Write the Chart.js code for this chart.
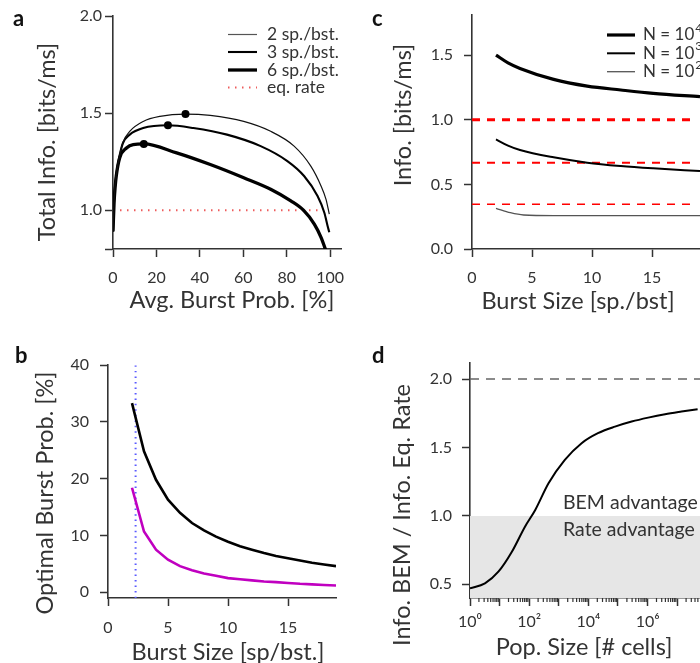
<!DOCTYPE html>
<html>
<head>
<meta charset="utf-8">
<script src="https://cdn.jsdelivr.net/npm/chart.js@4.4.1/dist/chart.umd.min.js"></script>
<style>
  html, body { margin: 0; padding: 0; background: #fff; }
  #fig { position: relative; width: 700px; height: 663px; overflow: hidden; }
  canvas { position: absolute; }
</style>
</head>
<body>
<div id="fig">
  <canvas id="pa" width="350" height="330" style="left:0;top:0"></canvas>
  <canvas id="pc" width="350" height="330" style="left:350px;top:0"></canvas>
  <canvas id="pb" width="350" height="333" style="left:0;top:330px"></canvas>
  <canvas id="pd" width="350" height="333" style="left:350px;top:330px"></canvas>
</div>
<script>
// ---- panel a: total info vs avg burst probability
const probA2 = [0, 0.5, 1, 2, 3, 4.6, 7.7, 13.9, 21.6, 33.4, 44.8, 60.2, 72.6, 83.4, 91.1, 95.8, 98.1, 99.6];
const infoA2 = [0.89, 1.05, 1.13, 1.22, 1.28, 1.35, 1.406, 1.457, 1.483, 1.495, 1.488, 1.457, 1.406, 1.33, 1.227, 1.125, 1.056, 0.98];
const probA3 = [0, 0.5, 1, 2, 3, 4.6, 7.7, 13.9, 25.3, 37, 52.5, 68, 80.3, 88, 94.2, 97.3, 98.8, 99.6];
const infoA3 = [0.89, 1.05, 1.13, 1.22, 1.28, 1.346, 1.389, 1.423, 1.437, 1.423, 1.389, 1.33, 1.253, 1.176, 1.073, 0.988, 0.92, 0.886];
const probA6 = [0, 0.5, 1, 1.5, 3.1, 6.2, 9.3, 14.2, 29.3, 44.8, 60.2, 72.6, 81.9, 87.7, 92.7, 95.8, 98.1];
const infoA6 = [0.89, 1.04, 1.12, 1.176, 1.27, 1.32, 1.338, 1.341, 1.295, 1.235, 1.167, 1.108, 1.048, 1.0, 0.928, 0.86, 0.79];
const peakProb = [33.4, 25.3, 14.2];
const peakInfo = [1.495, 1.437, 1.341];
const eqRateA = 1.0;
const legendA = ['2 sp./bst.', '3 sp./bst.', '6 sp./bst.', 'eq. rate'];

// ---- panel b: optimal burst probability vs burst size
const burstSizeB = [2, 3, 4, 5, 6, 7, 8, 9, 10, 11, 12, 13, 14, 15, 16, 17, 18, 19];
const optBlack = [33.3, 24.8, 19.8, 16.3, 14.0, 12.2, 10.9, 9.8, 8.9, 8.1, 7.5, 6.9, 6.4, 6.0, 5.6, 5.2, 4.9, 4.6];
const optMagenta = [18.4, 10.7, 7.5, 5.75, 4.6, 3.9, 3.3, 2.9, 2.5, 2.3, 2.1, 1.9, 1.8, 1.65, 1.5, 1.4, 1.3, 1.2];
const markerB = 2.3;

// ---- panel c: info vs burst size for three population sizes
const sizeC4 = [2, 3, 4, 6.8, 9.6, 12.4, 15.1, 19];
const infoC4 = [1.5, 1.44, 1.397, 1.312, 1.26, 1.23, 1.204, 1.178];
const sizeC3 = [2, 3, 4, 6.8, 9.6, 12.4, 15.1, 19];
const infoC3 = [0.848, 0.8, 0.766, 0.709, 0.668, 0.642, 0.624, 0.603];
const sizeC2 = [2, 3.2, 4.3, 6.8, 19];
const infoC2 = [0.315, 0.281, 0.263, 0.258, 0.258];
const eqRateC = [1.0, 0.667, 0.346];
const legendC = [['N = 10', '4'], ['N = 10', '3'], ['N = 10', '2']];

// ---- panel d: info ratio vs population size
const popSize = [1, 3.2, 9.1, 26, 72, 160, 450, 1600, 5900, 21000, 79000, 290000, 1050000, 3900000, 14000000, 49000000];
const infoRatio = [0.47, 0.507, 0.592, 0.738, 0.921, 1.043, 1.238, 1.409, 1.531, 1.604, 1.652, 1.689, 1.718, 1.743, 1.762, 1.779];
const ratioLimit = 2.0;
const popMax = 5.9e7;

const INK = '#333';
const FONT = "Lato, 'Open Sans', sans-serif";
Chart.defaults.font.family = FONT;
Chart.defaults.color = INK;

const zip = (xs, ys) => xs.map((x, i) => ({ x, y: ys[i] }));
const hline = (y, x0, x1) => [{ x: x0, y }, { x: x1, y }];

function axis(min, max, ticks, o) {
  return {
    type: o.type || 'linear',
    min, max,
    afterBuildTicks: s => { s.ticks = ticks.map(v => ({ value: v })); },
    afterFit: s => {
      if (o.width) s.width = o.width;
      if (o.height) s.height = o.height;
      s.paddingLeft = s.paddingRight = s.paddingTop = s.paddingBottom = 0;
    },
    border: { color: INK, width: 1.6 },
    grid: { drawOnChartArea: false, color: INK, tickLength: 8, tickWidth: 1.5 },
    ticks: { padding: o.pad, font: { size: 16 }, color: INK, autoSkip: false, maxRotation: 0,
             callback: o.fmt || (v => v) }
  };
}

const decor = {
  id: 'decor',
  afterDraw(chart, args, o) {
    const ctx = chart.ctx;
    ctx.save();
    ctx.textBaseline = 'alphabetic';
    ctx.font = 'bold 22px ' + FONT;
    ctx.fillStyle = '#111';
    ctx.textAlign = 'left';
    ctx.fillText(o.letter[0], o.letter[1], o.letter[2]);
    ctx.fillStyle = INK;
    ctx.font = '23.5px ' + FONT;
    ctx.textAlign = 'center';
    ctx.fillText(o.xTitle[0], o.xTitle[1], o.xTitle[2]);
    ctx.save();
    ctx.translate(o.yTitle[1], o.yTitle[2]);
    ctx.rotate(-Math.PI / 2);
    ctx.fillText(o.yTitle[0], 0, 0);
    ctx.restore();

    (o.legend || []).forEach(it => {
      ctx.save();
      ctx.strokeStyle = it.color;
      ctx.lineWidth = it.width;
      ctx.setLineDash(it.dash || []);
      ctx.beginPath();
      ctx.moveTo(o.legendX[0], it.y);
      ctx.lineTo(o.legendX[1], it.y);
      ctx.stroke();
      ctx.restore();
      ctx.font = o.legendSize + 'px ' + FONT;
      ctx.textAlign = 'left';
      ctx.textBaseline = 'middle';
      ctx.fillText(it.text, o.legendX[2], it.y);
      if (it.sup) {
        const w = ctx.measureText(it.text).width;
        ctx.font = '12px ' + FONT;
        ctx.fillText(it.sup, o.legendX[2] + w + 1, it.y - 7);
      }
    });

    (o.notes || []).forEach(n => {
      ctx.font = n.size + 'px ' + FONT;
      ctx.textAlign = 'left';
      ctx.textBaseline = 'middle';
      ctx.fillText(n.text, n.x, n.y);
    });

    if (o.minorTicks) {
      const xs = chart.scales.x;
      const y0 = chart.chartArea.bottom;
      ctx.strokeStyle = INK;
      ctx.lineWidth = 1.2;
      for (let k = 0; k < 8; k++) {
        for (let m = 2; m < 10; m++) {
          const v = m * Math.pow(10, k);
          if (v > xs.max) continue;
          const px = xs.getPixelForValue(v);
          ctx.beginPath();
          ctx.moveTo(px, y0);
          ctx.lineTo(px, y0 + 4);
          ctx.stroke();
        }
      }
    }
    ctx.restore();
  }
};

function base(padding) {
  return {
    responsive: false,
    animation: false,
    devicePixelRatio: 1,
    events: [],
    layout: { padding },
    elements: { point: { radius: 0 } },
    plugins: { legend: { display: false }, tooltip: { enabled: false } }
  };
}

function curve(data, color, width, extra) {
  return Object.assign({ data, showLine: true, borderColor: color, borderWidth: width,
    pointRadius: 0, fill: false, cubicInterpolationMode: 'monotone' }, extra || {});
}

// ---- panel a
new Chart(document.getElementById('pa'), {
  type: 'scatter',
  data: {
    datasets: [
      { data: zip(peakProb, peakInfo), pointRadius: 4, backgroundColor: '#000', borderWidth: 0 },
      curve(zip(probA2, infoA2), '#111', 1.2),
      curve(zip(probA3, infoA3), '#000', 2.1),
      curve(zip(probA6, infoA6), '#000', 3.3),
      curve(hline(eqRateA, 0, 97), '#ee5c5c', 2, { borderDash: [1.5, 5.5] })
    ]
  },
  options: Object.assign(base({ left: 0, top: 16, right: 9, bottom: 0 }), {
    scales: {
      x: axis(0, 105, [0, 20, 40, 60, 80, 100], { height: 81, pad: 11 }),
      y: axis(0.8, 2.0, [0.8, 1.0, 1.5, 2.0], { width: 113, pad: 3, fmt: v => v === 0.8 ? '' : v.toFixed(1) })
    },
    plugins: {
      legend: { display: false }, tooltip: { enabled: false },
      decor: {
        letter: ['a', 13, 26],
        xTitle: ['Avg. Burst Prob. [%]', 232, 308],
        yTitle: ['Total Info. [bits/ms]', 55, 142],
        legendX: [228, 257, 267],
        legendSize: 17.5,
        legend: [
          { text: legendA[0], y: 34.5, color: '#555', width: 1.2 },
          { text: legendA[1], y: 52, color: '#000', width: 2.1 },
          { text: legendA[2], y: 70, color: '#000', width: 3.3 },
          { text: legendA[3], y: 87.5, color: '#ee5c5c', width: 2, dash: [1.5, 5.5] }
        ]
      }
    }
  }),
  plugins: [decor]
});

// ---- panel c
new Chart(document.getElementById('pc'), {
  type: 'scatter',
  data: {
    datasets: [
      curve(zip(sizeC4, infoC4), '#000', 3.2),
      curve(zip(sizeC3, infoC3), '#000', 2),
      curve(zip(sizeC2, infoC2), '#555', 1.3),
      curve(hline(eqRateC[0], 0, 18.5), '#f00', 3, { borderDash: [8, 7] }),
      curve(hline(eqRateC[1], 0, 18.5), '#f00', 2, { borderDash: [8, 7] }),
      curve(hline(eqRateC[2], 0, 18.5), '#f00', 1.3, { borderDash: [8, 7] })
    ]
  },
  options: Object.assign(base({ left: 0, top: 15, right: 0, bottom: 0 }), {
    scales: {
      x: axis(0, 19, [0, 5, 10, 15], { height: 81, pad: 11 }),
      y: axis(0, 1.81, [0, 0.5, 1.0, 1.5], { width: 122, pad: 11, fmt: v => v.toFixed(1) })
    },
    plugins: {
      legend: { display: false }, tooltip: { enabled: false },
      decor: {
        letter: ['c', 22, 26],
        xTitle: ['Burst Size [sp./bst]', 228, 309],
        yTitle: ['Info. [bits/ms]', 61, 115],
        legendX: [257, 285, 293],
        legendSize: 17,
        legend: [
          { text: legendC[0][0], sup: legendC[0][1], y: 35, color: '#000', width: 3.2 },
          { text: legendC[1][0], sup: legendC[1][1], y: 53.3, color: '#000', width: 2 },
          { text: legendC[2][0], sup: legendC[2][1], y: 71.7, color: '#555', width: 1.3 }
        ]
      }
    }
  }),
  plugins: [decor]
});

// ---- panel b
new Chart(document.getElementById('pb'), {
  type: 'scatter',
  data: {
    datasets: [
      curve(zip(burstSizeB, optBlack), '#000', 2.6, { cubicInterpolationMode: 'default', tension: 0 }),
      curve(zip(burstSizeB, optMagenta), '#c000c0', 2.6, { cubicInterpolationMode: 'default', tension: 0 }),
      curve([{ x: markerB, y: -1 }, { x: markerB, y: 40 }], '#5a5aff', 2, { borderDash: [1.5, 4] })
    ]
  },
  options: Object.assign(base({ left: 0, top: 35, right: 14, bottom: 0 }), {
    scales: {
      x: axis(0, 19, [0, 5, 10, 15], { height: 65, pad: 12 }),
      y: axis(-1, 40, [0, 10, 20, 30, 40], { width: 108, pad: 11 })
    },
    plugins: {
      legend: { display: false }, tooltip: { enabled: false },
      decor: {
        letter: ['b', 15, 33],
        xTitle: ['Burst Size [sp/bst.]', 228, 330],
        yTitle: ['Optimal Burst Prob. [%]', 53, 163]
      }
    }
  }),
  plugins: [decor]
});

// ---- panel d
const supDigits = { 0: '⁰', 2: '²', 4: '⁴', 6: '⁶' };
new Chart(document.getElementById('pd'), {
  type: 'scatter',
  data: {
    datasets: [
      curve(zip(popSize, infoRatio), '#000', 2),
      curve(hline(ratioLimit, 1, popMax), '#666', 1.5, { borderDash: [9, 7] }),
      curve(hline(1.0, 1, popMax), 'rgba(0,0,0,0)', 0, { fill: 'start', backgroundColor: '#e6e6e6' })
    ]
  },
  options: Object.assign(base({ left: 0, top: 33, right: 0, bottom: 0 }), {
    scales: {
      x: axis(1, popMax, [1, 10, 100, 1e3, 1e4, 1e5, 1e6, 1e7],
        { type: 'logarithmic', height: 65, pad: 6,
          fmt: v => { const e = Math.round(Math.log10(v)); return e % 2 === 0 ? '10' + supDigits[e] : ''; } }),
      y: axis(0.4, 2.117, [0.5, 1.0, 1.5, 2.0], { width: 120, pad: 10, fmt: v => v.toFixed(1) })
    },
    plugins: {
      legend: { display: false }, tooltip: { enabled: false },
      filler: { propagate: false },
      decor: {
        letter: ['d', 22, 33],
        xTitle: ['Pop. Size [# cells]', 234, 325],
        yTitle: ['Info. BEM / Info. Eq. Rate', 60, 185],
        notes: [
          { text: 'BEM advantage', x: 213, y: 173, size: 19.5 },
          { text: 'Rate advantage', x: 213, y: 200, size: 19.5 }
        ],
        minorTicks: true
      }
    }
  }),
  plugins: [decor]
});
</script>
</body>
</html>
